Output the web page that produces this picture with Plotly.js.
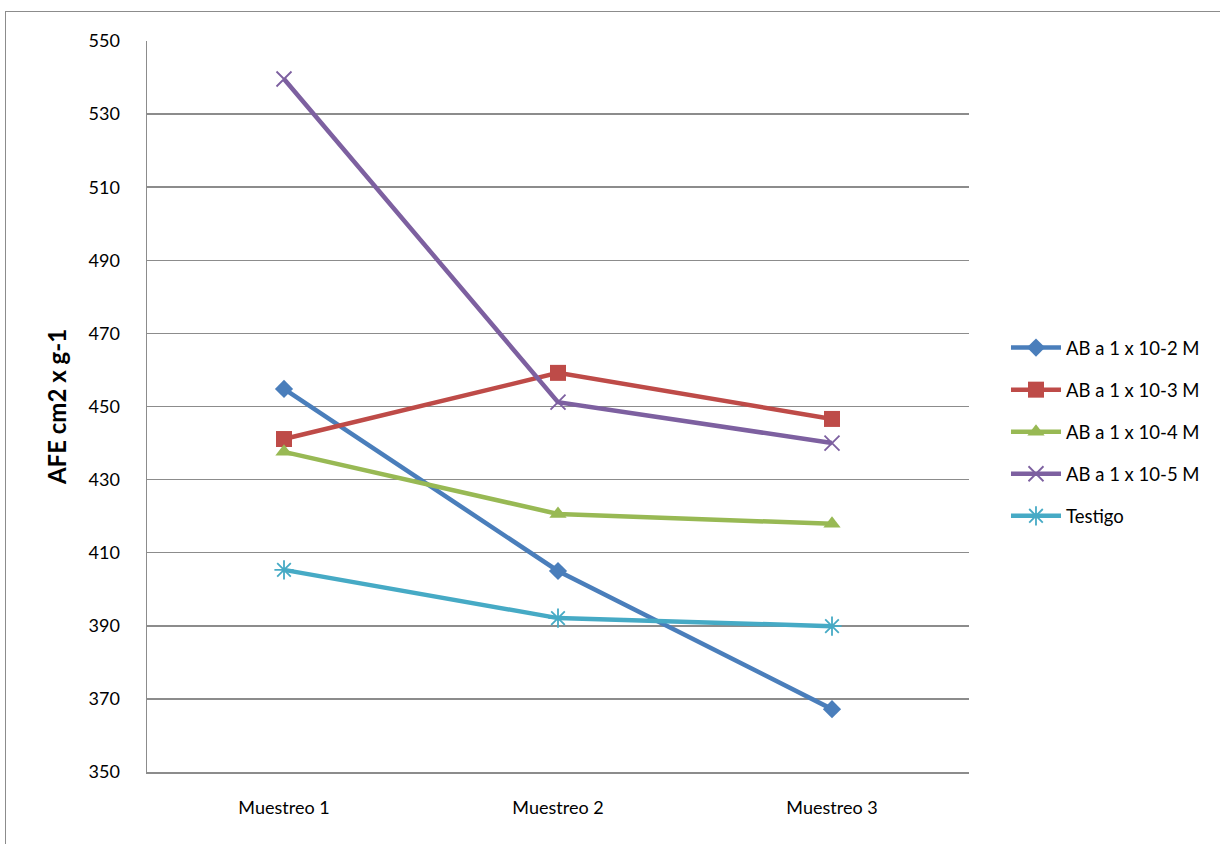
<!DOCTYPE html>
<html><head><meta charset="utf-8">
<script src="https://cdn.plot.ly/plotly-3.0.1.min.js"></script>
<style>
html,body{margin:0;padding:0;background:#fff;overflow:hidden;}
#frame{position:absolute;left:5px;top:11px;width:1400px;height:1000px;border:1.5px solid #8c8c8c;box-sizing:border-box;}
#chart{position:absolute;left:0;top:0;width:1220px;height:844px;}
</style></head><body>
<div id="frame"></div>
<div id="chart"></div>
<script>
const categories = ["Muestreo 1", "Muestreo 2", "Muestreo 3"];
const seriesNames = ["AB a 1 x 10-2 M", "AB a 1 x 10-3 M", "AB a 1 x 10-4 M", "AB a 1 x 10-5 M", "Testigo"];
const ab2 = [454.8, 405.0, 367.2];
const ab3 = [441.1, 459.2, 446.6];
const ab4 = [437.6, 420.6, 417.9];
const ab5 = [539.6, 451.2, 440.0];
const testigo = [405.3, 392.1, 389.9];
const yTicks = [350, 370, 390, 410, 430, 450, 470, 490, 510, 530, 550];

const colors = ["#4a7ebb", "#be4b48", "#98b954", "#7d60a0", "#46aac5"];
const symbols = ["diamond", "square", "triangle-up", "x-thin-open", "asterisk-open"];
const sizes = [14, 16, 15, 15, 16];
const vals = [ab2, ab3, ab4, ab5, testigo];

const traces = vals.map((v, i) => ({
  type: "scatter", mode: "lines+markers",
  x: categories, y: v, name: seriesNames[i],
  legendgroup: "g" + i,
  line: {color: colors[i], width: 4.5},
  marker: {symbol: symbols[i], size: sizes[i], color: colors[i],
           line: {color: colors[i], width: (i >= 3 ? 1.8 : 0)}}
}));

const layout = {
  width: 1220, height: 844,
  paper_bgcolor: "rgba(0,0,0,0)", plot_bgcolor: "rgba(0,0,0,0)",
  margin: {l: 147, r: 251, t: 41, b: 72},
  font: {family: "Lato, Liberation Sans, Arial, sans-serif", size: 18, color: "#000"},
  showlegend: true,
  legend: {x: 1.045, y: 0.465, xanchor: "left", yanchor: "middle",
           font: {size: 18.5, color: "#000"}, tracegroupgap: 15, itemwidth: 50,
           bgcolor: "rgba(0,0,0,0)"},
  xaxis: {type: "category", range: [-0.5, 2.5], showgrid: false, zeroline: false,
          showline: true, linecolor: "#8c8c8c", linewidth: 1.5, ticks: "",
          tickfont: {size: 18}, ticklabelstandoff: 19, fixedrange: true},
  yaxis: {range: [350, 550], tickvals: yTicks, ticktext: yTicks.map(String),
          showgrid: true, gridcolor: "#8c8c8c", gridwidth: 1.5, zeroline: false,
          showline: true, linecolor: "#8c8c8c", linewidth: 1.5, ticks: "",
          ticklabelstandoff: 22, tickfont: {size: 18},
          title: {text: "<b>AFE cm2 x g-1</b>", font: {size: 24}, standoff: 15}}
};
Plotly.newPlot("chart", traces, layout, {displayModeBar: false, staticPlot: true});
</script></body></html>
